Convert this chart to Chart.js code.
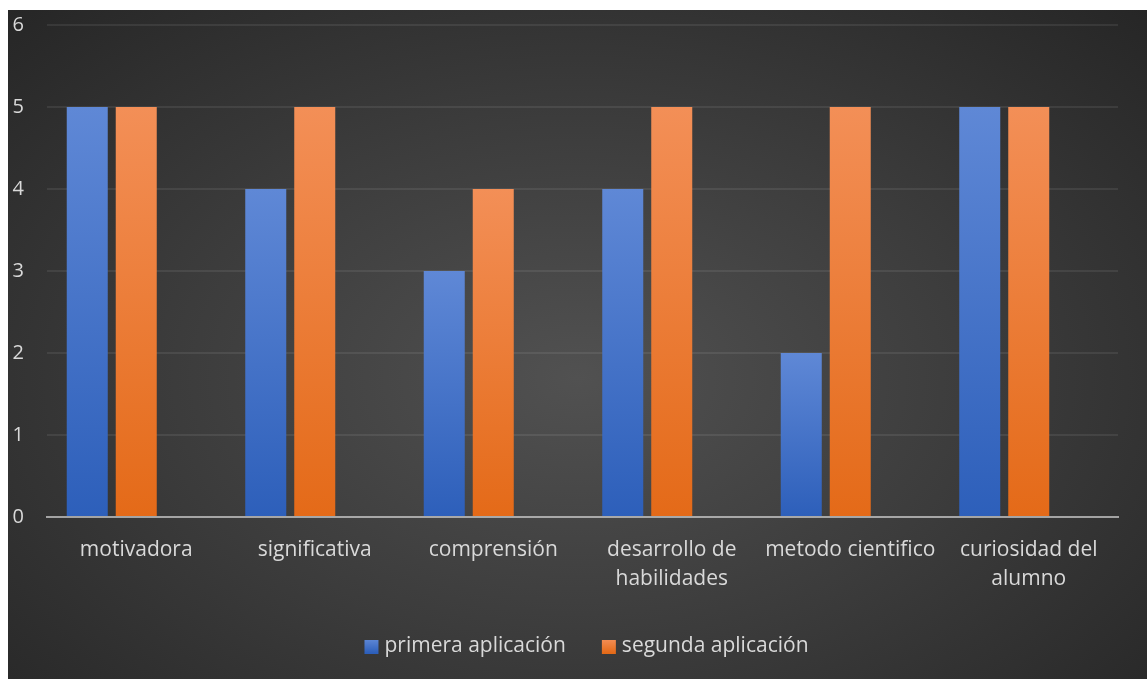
<!DOCTYPE html>
<html>
<head>
<meta charset="utf-8">
<script src="https://cdn.jsdelivr.net/npm/chart.js@4/dist/chart.umd.min.js"></script>
<style>
  html, body { margin: 0; padding: 0; background: #ffffff; }
  #wrap {
    position: absolute; left: 8px; top: 10px; width: 1139px; height: 669px;
    background: radial-gradient(ellipse farthest-corner at 50% 55%, #515151 0%, #3c3c3c 50%, #262626 100%);
  }
  canvas { display: block; }
</style>
</head>
<body>
<div id="wrap"><canvas id="c" width="1139" height="669"></canvas></div>
<script>
const categories = [
  'motivadora',
  'significativa',
  'comprensión',
  ['desarrollo de', 'habilidades'],
  'metodo cientifico',
  ['curiosidad del', 'alumno']
];
const seriesNames = ['primera aplicación', 'segunda aplicación'];
const primeraAplicacion = [5, 4, 3, 4, 2, 5];
const segundaAplicacion = [5, 5, 4, 5, 5, 5];
const terceraVacia = [null, null, null, null, null, null];
const yTicks = [0, 1, 2, 3, 4, 5, 6];

const FONT = "'Open Sans', 'Noto Sans', sans-serif";
const TEXT = '#d9d9d9';
const BLUE = ['#5f88d6', '#2d5fba'];
const ORANGE = ['#f38f57', '#e46a18'];

function barGradient(cols) {
  return function (ctx) {
    const chart = ctx.chart;
    if (!chart.chartArea || ctx.type !== 'data') return cols[0];
    const y = chart.scales.y;
    const v = ctx.raw;
    if (v == null) return cols[0];
    const y1 = y.getPixelForValue(v);
    const y0 = y.getPixelForValue(0);
    if (!isFinite(y1) || !isFinite(y0) || y1 === y0) return cols[0];
    const g = chart.ctx.createLinearGradient(0, y1, 0, y0);
    g.addColorStop(0, cols[0]);
    g.addColorStop(1, cols[1]);
    return g;
  };
}

const legendPlugin = {
  id: 'customLegend',
  afterDraw(chart) {
    const ctx = chart.ctx;
    const items = chart.data.datasets.filter(d => d.label);
    const box = 14, gapText = 6, gapItem = 36;
    ctx.save();
    ctx.font = "21px " + FONT;
    const widths = items.map(d => box + gapText + ctx.measureText(d.label).width);
    const total = widths.reduce((a, b) => a + b, 0) + gapItem * (items.length - 1);
    let x = 578.5 - total / 2;
    const cy = 636;
    items.forEach((d, i) => {
      const g = ctx.createLinearGradient(0, cy - box / 2, 0, cy + box / 2);
      g.addColorStop(0, d.legendColors[0]);
      g.addColorStop(1, d.legendColors[1]);
      ctx.fillStyle = g;
      ctx.fillRect(x, cy - box / 2 + 1, box, box);
      ctx.fillStyle = TEXT;
      ctx.textBaseline = 'middle';
      ctx.textAlign = 'left';
      ctx.fillText(d.label, x + box + gapText, cy);
      x += widths[i] + gapItem;
    });
    ctx.restore();
  }
};

new Chart(document.getElementById('c'), {
  type: 'bar',
  data: {
    labels: categories,
    datasets: [
      { label: seriesNames[0], data: primeraAplicacion, legendColors: BLUE,
        backgroundColor: barGradient(BLUE), borderWidth: 0,
        categoryPercentage: 0.8235, barPercentage: 0.837 },
      { label: seriesNames[1], data: segundaAplicacion, legendColors: ORANGE,
        backgroundColor: barGradient(ORANGE), borderWidth: 0,
        categoryPercentage: 0.8235, barPercentage: 0.837 },
      { label: '', data: terceraVacia, backgroundColor: 'rgba(0,0,0,0)',
        categoryPercentage: 0.8235, barPercentage: 0.837 }
    ]
  },
  plugins: [legendPlugin],
  options: {
    responsive: false,
    animation: false,
    layout: { padding: { left: 0, right: 29, top: 15, bottom: 54 } },
    plugins: {
      tooltip: { enabled: false },
      legend: { display: false }
    },
    scales: {
      x: {
        grid: { display: false, drawTicks: false },
        border: { display: true, color: 'rgba(217,217,217,0.68)', width: 2, z: 1 },
        ticks: {
          color: TEXT, font: { family: FONT, size: 21, lineHeight: 1.4 },
          padding: 18, maxRotation: 0, autoSkip: false
        },
        afterFit: (s) => { s.height = 108; s.paddingLeft = 0; s.paddingRight = 0; }
      },
      y: {
        min: 0, max: 6,
        afterBuildTicks: (s) => { s.ticks = yTicks.map(v => ({ value: v })); },
        grid: {
          drawTicks: false, lineWidth: 2,
          color: (c) => c.tick && c.tick.value === 0 ? 'rgba(0,0,0,0)' : 'rgba(255,255,255,0.08)'
        },
        border: { display: false },
        ticks: { color: TEXT, font: { family: FONT, size: 20 }, padding: 23 },
        afterFit: (s) => { s.width = 39; s.paddingTop = 0; s.paddingBottom = 0; }
      }
    }
  }
});
</script>
</body>
</html>
